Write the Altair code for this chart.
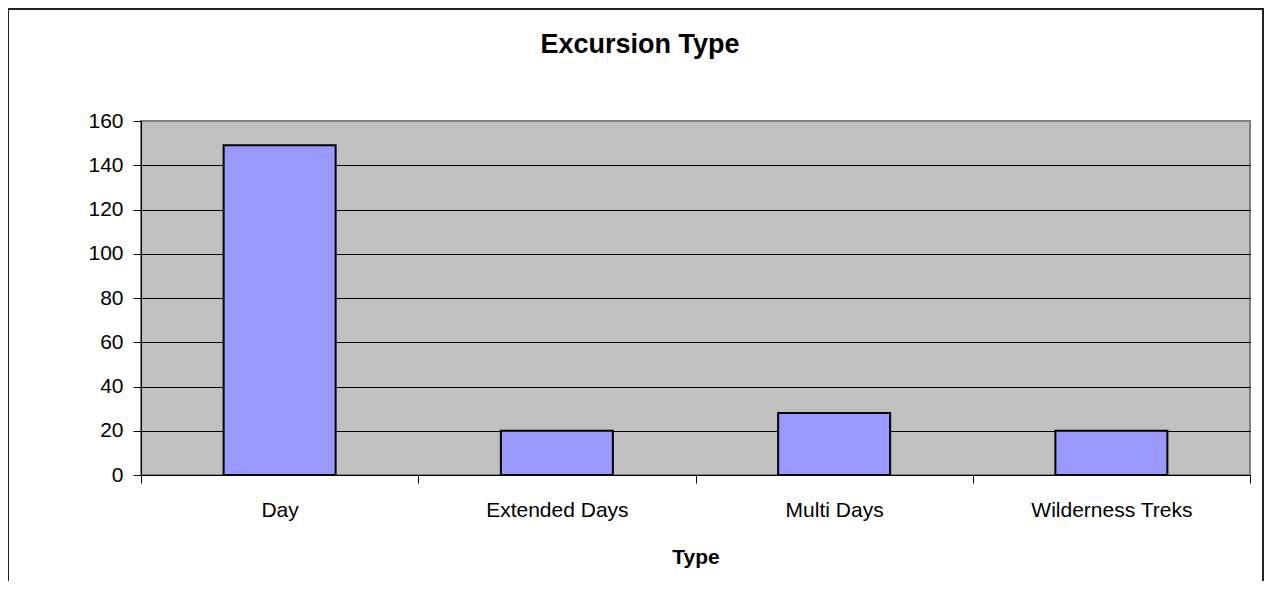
import altair as alt
import pandas as pd

categories = ["Day", "Extended Days", "Multi Days", "Wilderness Treks"]
counts = [149, 20, 28, 20]
y_ticks = [0, 20, 40, 60, 80, 100, 120, 140, 160]
chart_title = "Excursion Type"
x_title = "Type"

df = pd.DataFrame({"Type": categories, "Count": counts})
FONT = "Liberation Sans"

bars = alt.Chart(df).mark_bar(
    size=112, color="#9999FF", stroke="#000000", strokeWidth=2
).encode(
    x=alt.X("Type:N", sort=categories, title=x_title,
            scale=alt.Scale(paddingInner=0, paddingOuter=0),
            axis=alt.Axis(labelAngle=0, labelFontSize=21, labelFont=FONT, labelColor="#000",
                          labelPadding=16, tickBand="extent", tickSize=8, tickColor="#000",
                          domainColor="#000", titleFont=FONT, titleFontSize=21,
                          titleFontWeight="bold", titleColor="#000", titleY=88,
                          titleBaseline="alphabetic", grid=False)),
    y=alt.Y("Count:Q", title=None,
            scale=alt.Scale(domain=[0, 160], nice=False),
            axis=alt.Axis(values=y_ticks, labelFontSize=21, labelFont=FONT, labelColor="#000",
                          labelPadding=10, tickSize=8, tickColor="#000", domainColor="#000",
                          grid=True, gridWidth=1,
                          gridColor=alt.condition("datum.value >= 160",
                                                  alt.value("#808080"), alt.value("#000000")))),
)

border = alt.Chart(alt.Data(values=[{"a": 1}])).mark_rect(
    fillOpacity=0, stroke="#222222", strokeWidth=2, clip=False
).encode(
    x=alt.value(-133), x2=alt.value(1122), y=alt.value(-112), y2=alt.value(520)
)

title = alt.Chart(alt.Data(values=[{"t": chart_title}])).mark_text(
    font=FONT, fontSize=27, fontWeight="bold", color="#000", align="center",
    baseline="alphabetic", clip=False
).encode(
    x=alt.value(499), y=alt.value(-68), text="t:N"
)

chart = alt.layer(bars, border, title).properties(
    width=1109, height=354,
    padding={"left": 133, "top": 113, "right": 14, "bottom": 106},
    autosize=alt.AutoSizeParams(type="none"),
    background="#FFFFFF",
).configure_view(
    fill="#C0C0C0", stroke="#808080", strokeWidth=2
)

chart.save("out.html", embed_options={"renderer": "svg", "actions": False})
